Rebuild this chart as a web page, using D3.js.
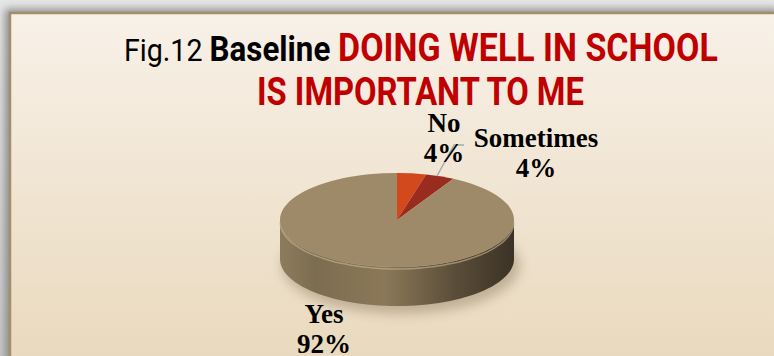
<!DOCTYPE html>
<html>
<head>
<meta charset="utf-8">
<script src="https://cdn.jsdelivr.net/npm/d3@7"></script>
<style>
  html, body { margin: 0; padding: 0; background: #dcdcdc; }
  svg { display: block; }
</style>
</head>
<body>
<svg id="chart" width="774" height="356"></svg>
<script>
// ---- data ----
const categories = ["No", "Sometimes", "Yes"];
const values = [4, 4, 92];
const percentLabels = ["4%", "4%", "92%"];
const sliceColors = ["#d2491b", "#9a2b1f", "#9e8a69"];
const titlePrefix = "Fig.12";
const titleBold = "Baseline";
const titleLine1Red = "DOING WELL IN SCHOOL";
const titleLine2Red = "IS IMPORTANT TO ME";

// ---- layout ----
const W = 774, H = 356;
const cx = 397, cy = 220, rx = 117, ry = 47, depth = 39;
const svg = d3.select("#chart");
const defs = svg.append("defs");

// outer background
const outerGrad = defs.append("linearGradient").attr("id", "outerGrad").attr("x1", 0).attr("y1", 0).attr("x2", 0).attr("y2", 1);
outerGrad.append("stop").attr("offset", "0").attr("stop-color", "#e6e6e6");
outerGrad.append("stop").attr("offset", "1").attr("stop-color", "#c9c9c9");
svg.append("rect").attr("width", W).attr("height", H).attr("fill", "url(#outerGrad)");

// panel shadow
const blur = defs.append("filter").attr("id", "blur").attr("x", "-10%").attr("y", "-10%").attr("width", "120%").attr("height", "120%");
blur.append("feGaussianBlur").attr("stdDeviation", 4);
svg.append("rect").attr("x", 5).attr("y", 9).attr("width", W).attr("height", H)
  .attr("fill", "#8c8c8c").attr("filter", "url(#blur)");

// panel
const panelGrad = defs.append("linearGradient").attr("id", "panelGrad").attr("x1", 0).attr("y1", 0).attr("x2", 0).attr("y2", 1);
panelGrad.append("stop").attr("offset", "0").attr("stop-color", "#f8f1e8");
panelGrad.append("stop").attr("offset", "1").attr("stop-color", "#e8d7ba");
svg.append("rect").attr("x", 10).attr("y", 13).attr("width", W + 20).attr("height", H + 20)
  .attr("fill", "url(#panelGrad)").attr("stroke", "#a38f6c").attr("stroke-width", 2.5);

// ---- title ----
const titleFont = "Roboto, 'Liberation Sans', Arial, sans-serif";
function fitLine(sel, x0, x1) {
  const node = sel.node();
  const w = node.getComputedTextLength();
  const s = (x1 - x0) / w;
  sel.attr("transform", `translate(${x0},0) scale(${s},1)`).attr("x", 0);
}
const t1 = svg.append("text").attr("y", 61).attr("font-family", titleFont);
t1.append("tspan").attr("font-size", 32).attr("fill", "#000").text(titlePrefix + " ");
t1.append("tspan").attr("font-size", 35).attr("font-weight", "bold").attr("fill", "#000").text(titleBold + " ");
t1.append("tspan").attr("font-size", 38).attr("font-weight", "bold").attr("fill", "#c00000").text(titleLine1Red);
fitLine(t1, 124, 718);

const t2 = svg.append("text").attr("y", 105).attr("font-family", titleFont)
  .attr("font-size", 38).attr("font-weight", "bold").attr("fill", "#c00000").text(titleLine2Red);
fitLine(t2, 257, 584);

// ---- pie ----
const pie = d3.pie().sort(null).value(d => d.value).startAngle(0).endAngle(2 * Math.PI);
const arcsData = pie(categories.map((c, i) => ({ cat: c, value: values[i], label: percentLabels[i], color: sliceColors[i] })));

// ground shadow
const shBlur = defs.append("filter").attr("id", "shBlur").attr("x", "-30%").attr("y", "-30%").attr("width", "160%").attr("height", "160%");
shBlur.append("feGaussianBlur").attr("stdDeviation", 6);
svg.append("ellipse").attr("cx", cx + 4).attr("cy", cy + depth + 6).attr("rx", rx + 2).attr("ry", ry + 2)
  .attr("fill", "#6b5a3e").attr("opacity", 0.35).attr("filter", "url(#shBlur)");

// side wall
const sideGrad = defs.append("linearGradient").attr("id", "sideGrad").attr("gradientUnits", "userSpaceOnUse")
  .attr("x1", cx - rx).attr("y1", 0).attr("x2", cx + rx).attr("y2", 0);
sideGrad.append("stop").attr("offset", "0").attr("stop-color", "#8d7c5c");
sideGrad.append("stop").attr("offset", "0.15").attr("stop-color", "#7d6d50");
sideGrad.append("stop").attr("offset", "0.45").attr("stop-color", "#8b7858");
sideGrad.append("stop").attr("offset", "0.75").attr("stop-color", "#5a4d38");
sideGrad.append("stop").attr("offset", "1").attr("stop-color", "#3b3226");

function ept(a, dy) {
  return [cx + rx * Math.sin(a), cy - ry * Math.cos(a) + (dy || 0)];
}
arcsData.forEach(d => {
  const a0 = Math.max(d.startAngle, Math.PI / 2);
  const a1 = Math.min(d.endAngle, 3 * Math.PI / 2);
  if (a1 <= a0) return;
  const n = 60;
  const top = d3.range(n + 1).map(i => ept(a0 + (a1 - a0) * i / n, 0));
  const bot = d3.range(n + 1).map(i => ept(a1 - (a1 - a0) * i / n, depth));
  svg.append("path").attr("d", d3.line()(top.concat(bot)) + "Z").attr("fill", d.index === 2 ? "url(#sideGrad)" : d.data.color);
});
// rim highlight
const rimPts = d3.range(61).map(i => ept(Math.PI / 2 + Math.PI * i / 60, 2));
svg.append("path").attr("d", d3.line().curve(d3.curveBasis)(rimPts)).attr("fill", "none")
  .attr("stroke", "#c9b894").attr("stroke-width", 1.5).attr("opacity", 0.6);

// top face
const arc = d3.arc().innerRadius(0).outerRadius(rx);
svg.append("g").attr("transform", `translate(${cx},${cy}) scale(1,${ry / rx})`)
  .selectAll("path").data(arcsData).join("path")
  .attr("d", arc).attr("fill", d => d.data.color);

// ---- labels ----
const labelFont = "'Liberation Serif', 'DejaVu Serif', serif";
const labelPos = [
  { x: 444, y: 132 },
  { x: 536, y: 147 },
  { x: 324, y: 323 }
];
// leader line for "No"
svg.append("path").attr("d", d3.line()([[437, 176], [454, 145], [464, 145]]))
  .attr("fill", "none").attr("stroke", "#a3abb3").attr("stroke-width", 1.5);

arcsData.forEach((d, i) => {
  const p = labelPos[i];
  const t = svg.append("text").attr("font-family", labelFont).attr("font-weight", "bold")
    .attr("font-size", 27).attr("fill", "#000").attr("text-anchor", "middle");
  t.append("tspan").attr("x", p.x).attr("y", p.y).text(d.data.cat);
  t.append("tspan").attr("x", p.x).attr("y", p.y + 30).text(d.data.label);
});
</script>
</body>
</html>
